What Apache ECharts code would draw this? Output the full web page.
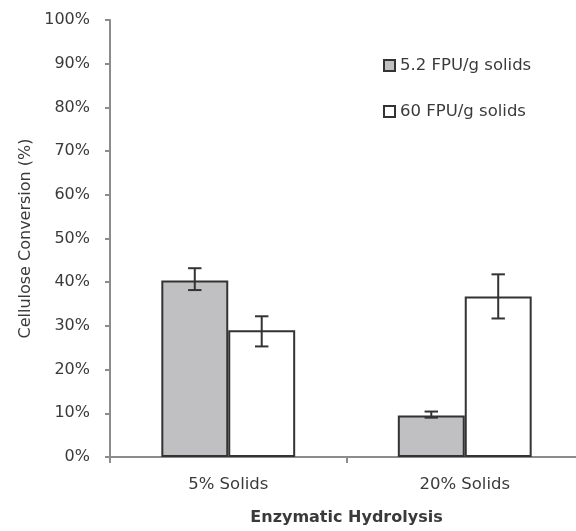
<!DOCTYPE html>
<html><head><meta charset="utf-8">
<script src="https://cdn.jsdelivr.net/npm/echarts@6/dist/echarts.min.js"></script>
<style>html,body{margin:0;padding:0;background:#fff;overflow:hidden}#c{width:583px;height:531px}</style>
</head><body><div id="c"></div>
<script>
const categories = ['5% Solids', '20% Solids'];
const seriesNames = ['5.2 FPU/g solids', '60 FPU/g solids'];
const lowEnzyme = [40.4, 9.5];
const lowEnzymeErrLow = [38.2, 9.0];
const lowEnzymeErrHigh = [43.2, 10.4];
const highEnzyme = [29.0, 36.7];
const highEnzymeErrLow = [25.3, 31.7];
const highEnzymeErrHigh = [32.2, 41.8];
const yTicks = [0, 10, 20, 30, 40, 50, 60, 70, 80, 90, 100];

const FONT = 'DejaVu Sans';
const TXT = '#3a3a3a';
const BAR_FRAC = 0.283;
const chart = echarts.init(document.getElementById('c'), null, {renderer: 'canvas'});

function errSeries(lows, highs, idx) {
  return {
    type: 'custom',
    silent: true,
    z: 10,
    data: categories.map((c, i) => [i, lows[i], highs[i]]),
    renderItem: function (params, api) {
      const ci = api.value(0);
      const lo = api.coord([ci, api.value(1)]);
      const hi = api.coord([ci, api.value(2)]);
      const size = api.size([1, 0]);
      const barW = size[0] * BAR_FRAC;
      const x = lo[0] + (idx === 0 ? -barW / 2 : barW / 2);
      const cap = 6.7;
      const st = {stroke: '#333', lineWidth: 2};
      return {type: 'group', children: [
        {type: 'line', shape: {x1: x, y1: hi[1], x2: x, y2: lo[1]}, style: st},
        {type: 'line', shape: {x1: x - cap, y1: hi[1], x2: x + cap, y2: hi[1]}, style: st},
        {type: 'line', shape: {x1: x - cap, y1: lo[1], x2: x + cap, y2: lo[1]}, style: st}
      ]};
    }
  };
}

chart.setOption({
  animation: false,
  grid: {left: 110, right: 0, top: 20, bottom: 70, containLabel: false},
  legend: {
    orient: 'vertical', left: 383, top: 57, padding: 0, itemGap: 29,
    itemWidth: 11, itemHeight: 11, icon: 'rect',
    data: seriesNames,
    textStyle: {fontFamily: FONT, fontSize: 16.5, lineHeight: 17, color: TXT}
  },
  xAxis: {
    type: 'category', data: categories,
    name: 'Enzymatic Hydrolysis', nameLocation: 'middle', nameGap: 53,
    nameTextStyle: {fontFamily: FONT, fontSize: 16, fontWeight: 'bold', color: TXT},
    axisLine: {lineStyle: {color: '#8c8c8c', width: 2}},
    axisTick: {show: true, length: 6, lineStyle: {color: '#8c8c8c', width: 2}},
    axisLabel: {fontFamily: FONT, fontSize: 16.5, color: TXT, margin: 19},
    boundaryGap: true
  },
  yAxis: {
    type: 'value', min: 0, max: 100, interval: 10,
    name: 'Cellulose Conversion (%)', nameLocation: 'middle', nameGap: 74,
    nameTextStyle: {fontFamily: FONT, fontSize: 16, color: TXT},
    axisLine: {show: true, lineStyle: {color: '#8c8c8c', width: 2}},
    axisTick: {show: true, inside: false, length: 5, lineStyle: {color: '#8c8c8c', width: 2}},
    splitLine: {show: false},
    axisLabel: {fontFamily: FONT, fontSize: 16, color: TXT, margin: 20,
      formatter: v => yTicks.includes(v) ? v + '%' : ''}
  },
  series: [
    {name: seriesNames[0], type: 'bar', data: lowEnzyme, barWidth: (BAR_FRAC * 100) + '%', barGap: '0%',
      itemStyle: {color: '#c0c0c2', borderColor: '#333', borderWidth: 2}},
    {name: seriesNames[1], type: 'bar', data: highEnzyme, barWidth: (BAR_FRAC * 100) + '%', barGap: '0%',
      itemStyle: {color: '#ffffff', borderColor: '#333', borderWidth: 2}},
    errSeries(lowEnzymeErrLow, lowEnzymeErrHigh, 0),
    errSeries(highEnzymeErrLow, highEnzymeErrHigh, 1)
  ]
});
</script></body></html>
